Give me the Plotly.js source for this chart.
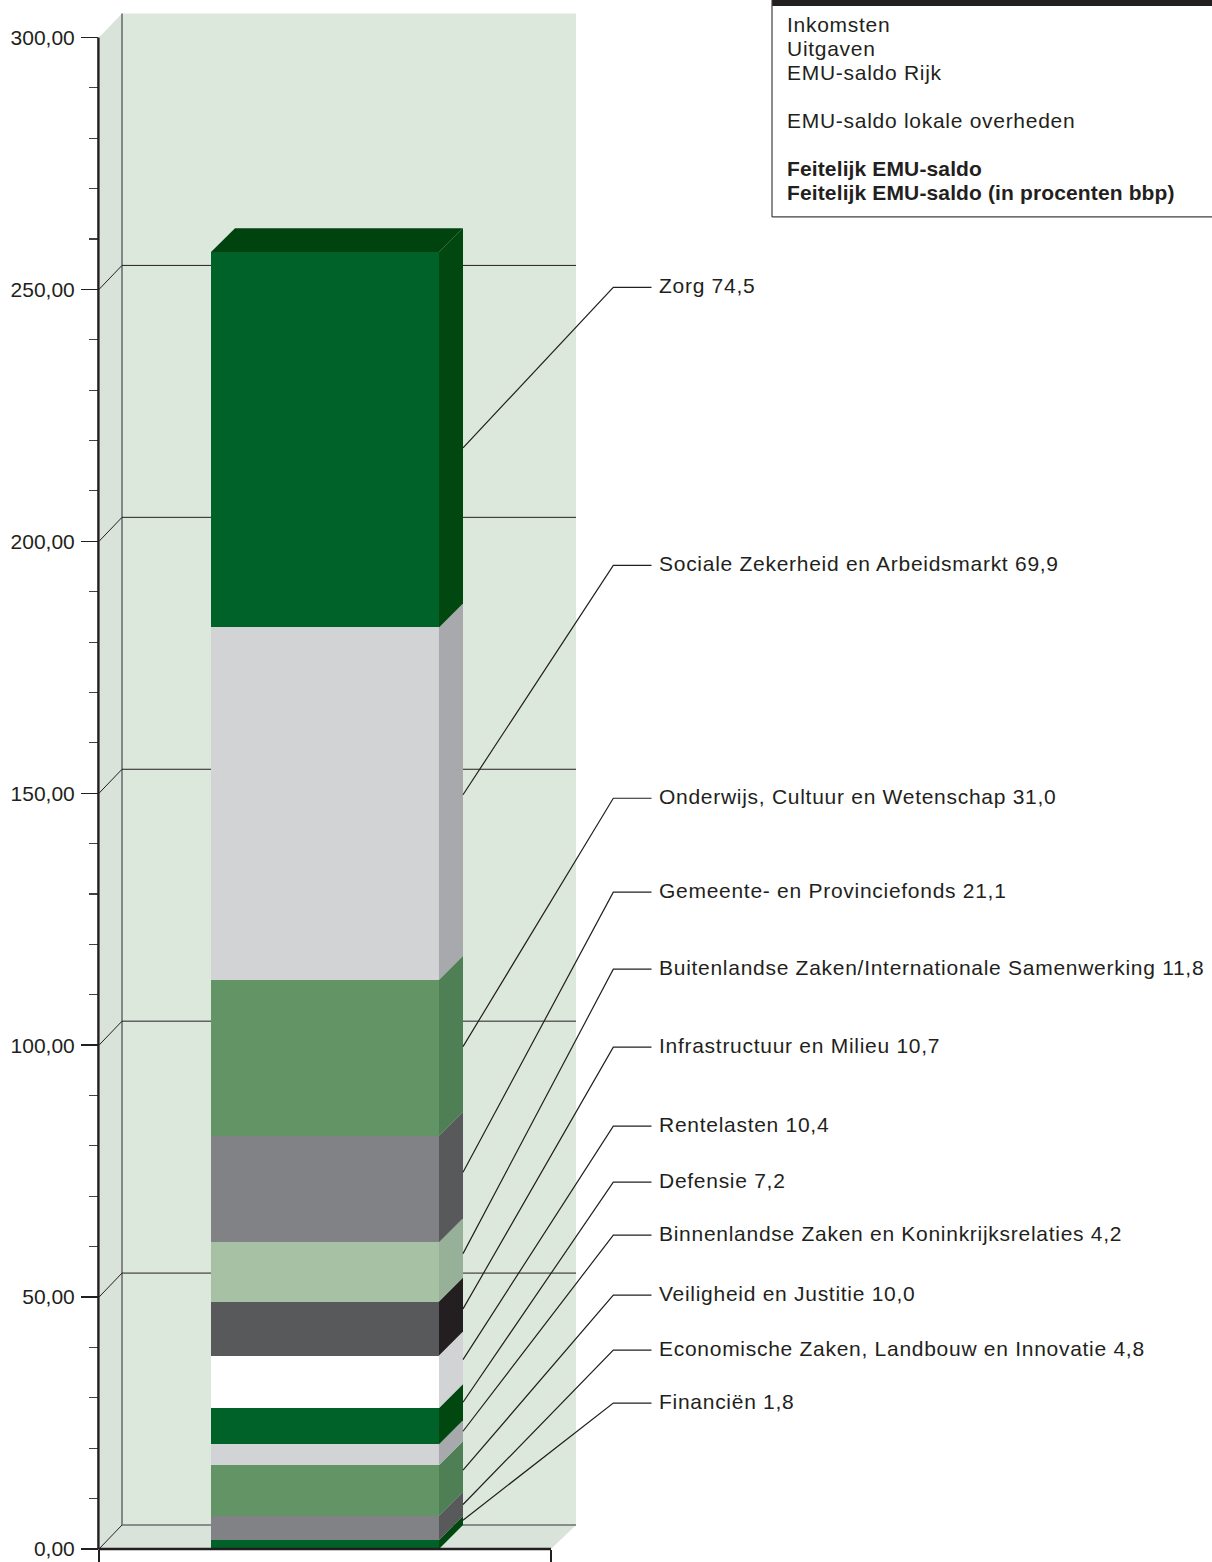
<!DOCTYPE html>
<html><head><meta charset="utf-8">
<script src="https://cdn.plot.ly/plotly-3.0.1.min.js"></script>
<style>html,body{margin:0;padding:0;background:#fff}
.annotation-text{letter-spacing:0.72px}
.annotation-text tspan[style*="bold"]{letter-spacing:0.13px}</style></head>
<body><div id="chart" style="width:1212px;height:1562px"></div>
<script>
// --- data, bottom of the stack first
const categories = ["Financiën","Economische Zaken, Landbouw en Innovatie","Veiligheid en Justitie","Binnenlandse Zaken en Koninkrijksrelaties","Defensie","Rentelasten","Infrastructuur en Milieu","Buitenlandse Zaken/Internationale Samenwerking","Gemeente- en Provinciefonds","Onderwijs, Cultuur en Wetenschap","Sociale Zekerheid en Arbeidsmarkt","Zorg"];
const values = [1.8,4.8,10.0,4.2,7.2,10.4,10.7,11.8,21.1,31.0,69.9,74.5];
const frontColors = ["#006129","#808285","#629465","#d1d3d4","#006129","#ffffff","#58595b","#a7c1a5","#808285","#629465","#d1d3d4","#006129"];
const sideColors = ["#00480f","#58595b","#4f7f55","#a7a9ac","#00480f","#d1d3d4","#231f20","#97b098","#58595b","#4f7f55","#a7a9ac","#00480f"];
const topColor = "#00430f";
const legendLines = ["Inkomsten","Uitgaven","EMU-saldo Rijk","","EMU-saldo lokale overheden","","<b>Feitelijk EMU-saldo</b>","<b>Feitelijk EMU-saldo (in procenten bbp)</b>"];
// --- label placement (page pixels)
const labelY = [1403,1350,1295,1235,1182,1126,1047,969,892,798,565,287];
const leaderStartY = [1520.7,1505,1470.7,1431.7,1402.7,1360,1309.3,1254,1172.7,1047,795,448];

// --- scales
const W=1212,H=1562,L=99,B=12.5,pxX=452,pxY=5.04;
const plotW=W-L, plotH=H-B;
const xRange=plotW/pxX, yRange=plotH/pxY;
const xOf=p=>(p-L)/pxX, yOf=p=>(plotH-p)/pxY;
const dx=24/pxX, dy=24/pxY, wallL=23/pxX, wallR=1+25/pxX;
const barC=0.5, barW=228/pxX, xR=barC+barW/2, xL=barC-barW/2;
const FONT="Liberation Sans, Arial, sans-serif", TXT="#231f20", FS=21;

const traces=[];
// stacked front faces
categories.forEach((c,i)=>traces.push({type:"bar",name:c,x:[barC],y:[values[i]],width:[barW],
  marker:{color:frontColors[i],line:{width:0}},hoverinfo:"name+y",showlegend:false}));
// side faces
let base=0;
const poly=(x,y,color)=>({type:"scatter",mode:"lines",x,y,fill:"toself",fillcolor:color,line:{width:0},hoverinfo:"skip",showlegend:false});
values.forEach((v,i)=>{const t=base+v;
  traces.push(poly([xR,xR+dx,xR+dx,xR,xR],[base,base+dy,t+dy,t,base],sideColors[i]));
  base=t;});
// top face
traces.push(poly([xL,xL+dx,xR+dx,xR,xL],[base,base+dy,base+dy,base,base],topColor));
// leader lines and labels
const annotations=[];
categories.forEach((c,i)=>{
  const ly=yOf(labelY[i]+0.5);
  traces.push({type:"scatter",mode:"lines",x:[xOf(463),xOf(613.3),xOf(651.5)],y:[yOf(leaderStartY[i]),ly,ly],
    line:{color:TXT,width:1.2},hoverinfo:"skip",showlegend:false});
  annotations.push({xref:"x",yref:"y",x:xOf(657),y:yOf(labelY[i]-1),xanchor:"left",yanchor:"middle",showarrow:false,
    text:c+" "+values[i].toFixed(1).replace(".",","),font:{family:FONT,size:FS,color:TXT}});
});

// 3D frame
const wall="#dde8dd", side="#d9e3da", grid="#231f20";
const path=(pts)=>"M"+pts.map(p=>p[0]+","+p[1]).join("L")+"Z";
const shapes=[
 {type:"path",xref:"x",yref:"y",layer:"below",path:path([[wallL,dy],[wallR,dy],[wallR,300+dy],[wallL,300+dy]]),fillcolor:wall,line:{width:0}},
 {type:"path",xref:"x",yref:"y",layer:"below",path:path([[0,0],[wallL,dy],[wallL,300+dy],[0,300]]),fillcolor:side,line:{width:0}},
 {type:"path",xref:"x",yref:"y",layer:"below",path:path([[0,0],[1,0],[wallR,dy],[wallL,dy]]),fillcolor:side,line:{width:0}},
 {type:"line",xref:"x",yref:"y",layer:"below",x0:wallL,x1:wallL,y0:dy,y1:300+dy,line:{color:"#6d6e71",width:1.6}}
];
for(let v=0;v<=250;v+=50){
  const gy=v+dy;
  shapes.push({type:"line",xref:"x",yref:"y",layer:"below",x0:wallL,x1:wallR,y0:gy,y1:gy,line:{color:v==0?"#6d6e71":grid,width:v==0?1.6:1}});
  shapes.push({type:"line",xref:"x",yref:"y",layer:"below",x0:0,x1:wallL,y0:v,y1:gy,line:{color:grid,width:1}});
}
// main axis lines, drawn past the plot edge through paper coordinates on the same scale
shapes.push({type:"line",xref:"paper",yref:"paper",x0:-0.6/plotW,x1:-0.6/plotW,y0:0,y1:300/yRange,line:{color:TXT,width:2.4}});
shapes.push({type:"line",xref:"paper",yref:"paper",x0:-0.6/plotW,x1:1/xRange,y0:0,y1:0,line:{color:TXT,width:2.4}});
// text box, top right
shapes.push({type:"rect",xref:"x",yref:"y",x0:xOf(772),x1:xOf(1212),y0:yOf(6),y1:yOf(0),fillcolor:TXT,line:{width:0}});
shapes.push({type:"line",xref:"x",yref:"y",x0:xOf(772),x1:xOf(772),y0:yOf(0),y1:yOf(217),line:{color:"#414042",width:1.2}});
shapes.push({type:"line",xref:"x",yref:"y",x0:xOf(772),x1:xOf(1212),y0:yOf(217),y1:yOf(217),line:{color:"#414042",width:1.2}});
legendLines.forEach((t,i)=>{ if(t) annotations.push({xref:"x",yref:"y",x:xOf(785),y:yOf(25+24*i),xanchor:"left",yanchor:"middle",showarrow:false,
  text:t,font:{family:FONT,size:FS,color:TXT}});});

const layout={width:W,height:H,margin:{l:L,r:0,t:0,b:B,pad:0},barmode:"stack",separators:",.",
 paper_bgcolor:"#fff",plot_bgcolor:"rgba(0,0,0,0)",showlegend:false,shapes,annotations,
 xaxis:{range:[0,xRange],showgrid:false,zeroline:false,showline:false,tickmode:"array",tickvals:[0,1],ticktext:["",""],ticks:"outside",ticklen:13,tickwidth:1.5,tickcolor:TXT,showticklabels:false},
 yaxis:{range:[0,yRange],showgrid:false,zeroline:false,showline:false,tickmode:"linear",tick0:0,dtick:50,ticks:"outside",ticklen:17,tickwidth:1.4,tickcolor:TXT,tickformat:".2f",
   tickfont:{family:FONT,size:21,color:TXT},ticklabelstandoff:2,
   minor:{dtick:10,ticks:"outside",ticklen:9,tickwidth:1.1,tickcolor:"#414042",showgrid:false}}
};
Plotly.newPlot("chart",traces,layout,{displayModeBar:false,staticPlot:true});
</script></body></html>
